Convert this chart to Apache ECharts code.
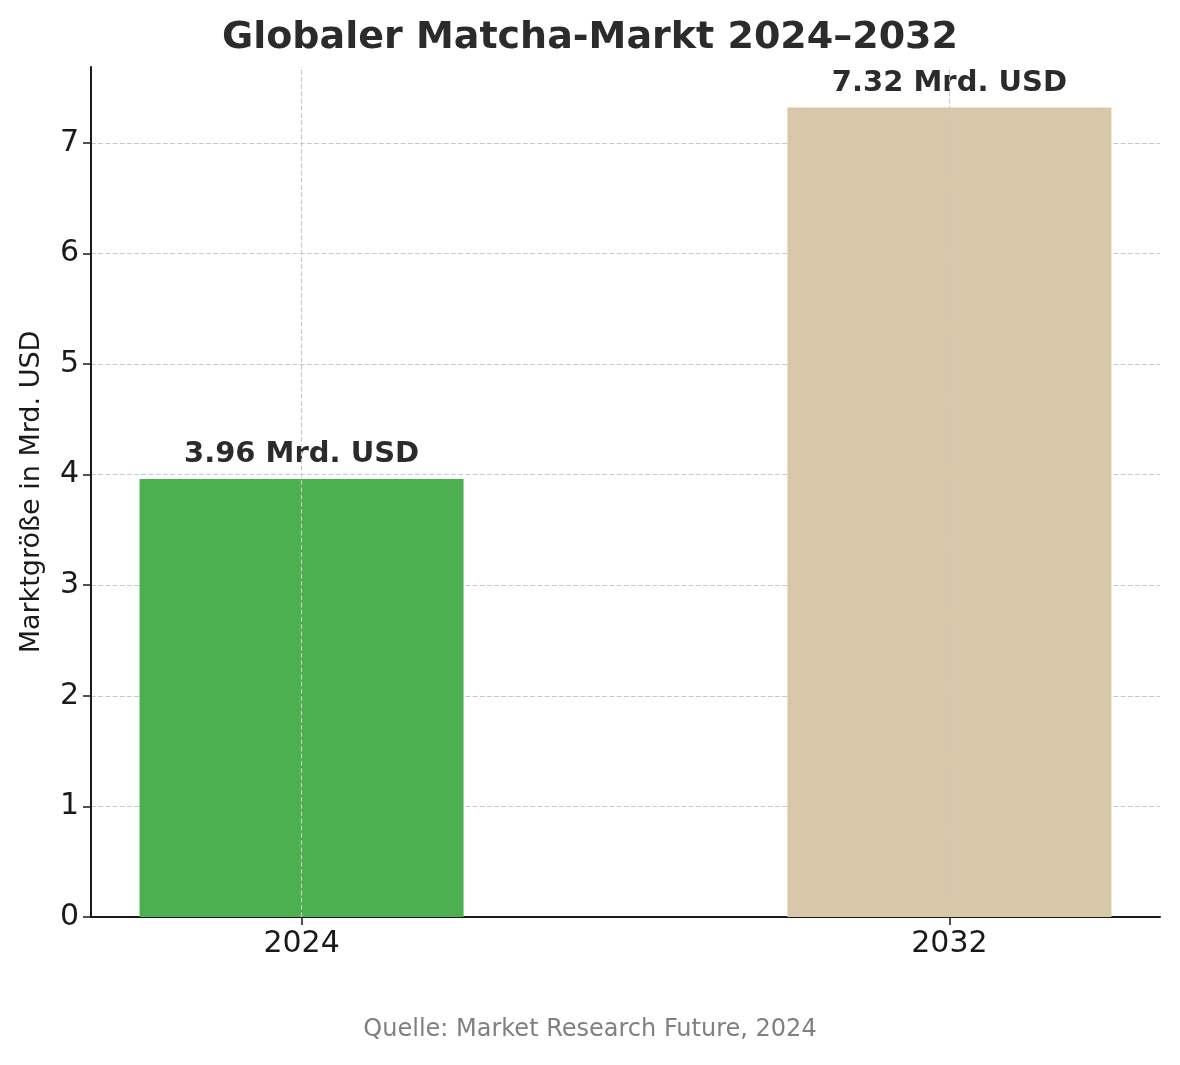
<!DOCTYPE html>
<html>
<head>
<meta charset="utf-8">
<script src="https://cdn.jsdelivr.net/npm/echarts@6/dist/echarts.min.js"></script>
<style>html,body{margin:0;padding:0;background:#fff}#chart{width:1180px;height:1065px}</style>
</head>
<body>
<div id="chart"></div>
<script>
const years = ['2024', '2032'];
const marketSize = [3.96, 7.32];
const barColors = ['#4caf50', '#d8c7a8'];
const yTicks = [0, 1, 2, 3, 4, 5, 6, 7];

const chart = echarts.init(document.getElementById('chart'));
const font = 'DejaVu Sans';
const gridLine = { type: 'dashed', color: '#c8c8c8', width: 1.2 };

chart.setOption({
    animation: false,
    textStyle: { fontFamily: font },
    title: {
        text: 'Globaler Matcha-Markt 2024–2032',
        left: 'center', top: 14,
        textStyle: { fontSize: 38, fontWeight: 'bold', color: '#2b2b2b', fontFamily: font }
    },
    graphic: [{
        type: 'text', left: 'center', top: 1018,
        style: { text: 'Quelle: Market Research Future, 2024', fontSize: 24, fill: '#808080', fontFamily: font }
    }],
    grid: { left: 91, right: 20, top: 67, bottom: 148 },
    xAxis: {
        type: 'value', min: -0.325, max: 1.325,
        axisLine: { show: true, onZero: false, lineStyle: { color: '#1a1a1a', width: 2 } },
        axisTick: { show: true, customValues: [0, 1], length: 8, lineStyle: { color: '#1a1a1a', width: 1.5 } },
        axisLabel: { customValues: [0, 1], formatter: v => years[Math.round(v)], fontSize: 30, color: '#1a1a1a', margin: 12 },
        splitLine: { show: false }
    },
    yAxis: {
        type: 'value', min: 0, max: 7.686,
        name: 'Marktgröße in Mrd. USD', nameLocation: 'middle', nameGap: 46,
        nameTextStyle: { fontSize: 27, color: '#1a1a1a' },
        axisLine: { show: true, onZero: false, lineStyle: { color: '#1a1a1a', width: 2 } },
        axisTick: { show: true, customValues: yTicks, length: 8, lineStyle: { color: '#1a1a1a', width: 1.5 } },
        axisLabel: { customValues: yTicks, fontSize: 30, color: '#1a1a1a', margin: 12 },
        splitLine: { show: true, lineStyle: gridLine }
    },
    series: [{
        type: 'bar',
        barWidth: 324,
        data: marketSize.map((v, i) => ({ value: [i, v], itemStyle: { color: barColors[i] } })),
        label: {
            show: true, position: 'top', distance: 10,
            formatter: p => p.value[1].toFixed(2) + ' Mrd. USD',
            fontSize: 29, fontWeight: 'bold', color: '#2b2b2b'
        },
        markLine: {
            silent: true, symbol: 'none', label: { show: false },
            lineStyle: gridLine,
            data: [{ xAxis: 0 }, { xAxis: 1 }]
        }
    }]
});
</script>
</body>
</html>
